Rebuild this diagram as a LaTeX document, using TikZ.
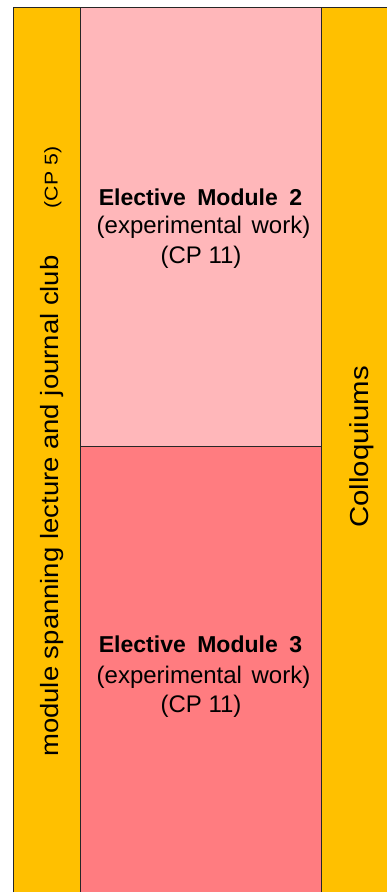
\documentclass[tikz,border=0pt]{standalone}
\usepackage{fontspec}
\setmainfont{Liberation Sans}
\definecolor{colOrange}{HTML}{FFC000}
\definecolor{colPink}{HTML}{FFB7BA}
\definecolor{colSalmon}{HTML}{FF7C80}
\begin{document}
\begin{tikzpicture}[x=1pt,y=-1pt,
  block/.style={draw=black!85, line width=1pt, inner sep=0pt, anchor=north west},
  hline/.style={anchor=base, inner sep=0pt, font=\fontsize{24}{28}\selectfont},
  hbold/.style={hline, font=\fontsize{23}{28}\selectfont\bfseries},
  vline/.style={rotate=90, anchor=base west, inner sep=0pt}]
\useasboundingbox (0,0) rectangle (387,892);
\fill[white] (0,0) rectangle (387,892);
\clip (0,0) rectangle (387,892);

% columns and module blocks
\node[block, fill=colOrange, minimum width=67pt, minimum height=900pt] (lecture) at (13,7) {};
\node[block, fill=colPink, minimum width=241pt, minimum height=439pt] (em2) at (80,7) {};
\node[block, fill=colSalmon, minimum width=241pt, minimum height=460pt] (em3) at (80,446) {};
\node[block, fill=colOrange, minimum width=80pt, minimum height=900pt] (colloq) at (321,7) {};

% lecture column text
\node[vline, font=\fontsize{25}{30}\selectfont] (lecturetext) at (58,757)
  {\scalebox{1.1}[1]{module spanning lecture and journal club}};
\node[vline, font=\fontsize{18.5}{22}\selectfont] (lecturecp) at (57.5,208.5)
  {\scalebox{1.15}[1]{(CP 5)}};

% elective module 2
\node[hbold] (em2a) at (200.5,205) {Elective\hspace{0.5em}Module\hspace{0.5em}2};
\node[hline] (em2b) at (203.5,233) {(experimental\hspace{0.4em}work)};
\node[hline] (em2c) at (201,263) {(CP 11)};

% elective module 3
\node[hbold] (em3a) at (200.5,652) {Elective\hspace{0.5em}Module\hspace{0.5em}3};
\node[hline] (em3b) at (203.5,683) {(experimental\hspace{0.4em}work)};
\node[hline] (em3c) at (201,712) {(CP 11)};

% colloquium column text
\node[vline, font=\fontsize{26}{31}\selectfont] (colloqtext) at (368,528)
  {\scalebox{1.13}[1]{Colloquiums}};
\end{tikzpicture}
\end{document}
